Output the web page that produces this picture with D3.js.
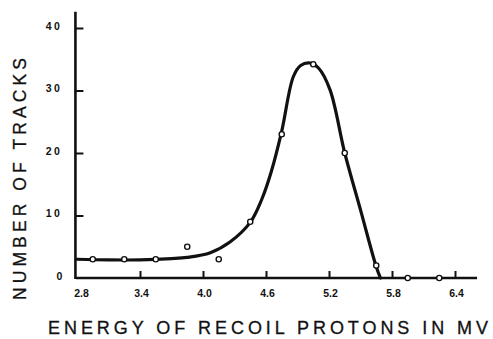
<!DOCTYPE html>
<html>
<head>
<meta charset="utf-8">
<script src="https://cdn.jsdelivr.net/npm/d3@7"></script>
<style>
  body { margin: 0; background: #fff; }
  svg { display: block; }
</style>
</head>
<body>
<div id="chart"></div>
<script>
// measured points (energy in MV, number of tracks)
const energy = [2.95, 3.25, 3.55, 3.85, 4.15, 4.45, 4.75, 5.05, 5.35, 5.65, 5.95, 6.25];
const tracks = [3, 3, 3, 5, 3, 9, 23, 34.2, 20, 2, 0, 0];

// hand drawn smooth curve
const curveX = [2.8, 3.1, 3.4, 3.7, 3.85, 4.07, 4.26, 4.45, 4.56, 4.65, 4.75, 4.86, 4.93, 5.02, 5.10, 5.21, 5.35, 5.5, 5.65, 5.69];
const curveY = [3.0, 2.9, 2.9, 3.1, 3.3, 4.05, 5.8, 8.9, 12.6, 17, 23.5, 32.2, 34.0, 34.4, 33.6, 30.1, 20, 10.9, 1.8, 0];

const xTicks = [2.8, 3.4, 4.0, 4.6, 5.2, 5.8, 6.4];
const yTicks = [0, 10, 20, 30, 40];

const W = 493, H = 339;
const ink = "#111";

const svg = d3.select("#chart").append("svg")
  .attr("width", W)
  .attr("height", H);

let x = d3.scaleLinear().domain([2.8, 6.4]).range([77, 455]);
let y = d3.scaleLinear().domain([0, 40]).range([278, 28]);

// axis lines (longer than the tick range)
svg.append("line")
  .attr("x1", x(2.79)).attr("x2", x(6.61))
  .attr("y1", y(0)).attr("y2", y(0))
  .attr("stroke", ink).attr("stroke-width", 2.6);
svg.append("line")
  .attr("x1", x(2.785)).attr("x2", x(2.785))
  .attr("y1", y(0) + 1).attr("y2", y(42.6))
  .attr("stroke", ink).attr("stroke-width", 2.6);

const xAxis = svg.append("g")
  .attr("transform", "translate(0," + y(0) + ")")
  .call(d3.axisBottom(x).tickValues(xTicks).tickFormat(d3.format(".1f"))
    .tickSize(-7).tickPadding(12));
xAxis.select(".domain").remove();
xAxis.selectAll(".tick line").attr("stroke", ink).attr("stroke-width", 2)
  .filter(d => d === 2.8).remove();
xAxis.selectAll("text")
  .attr("fill", ink)
  .style("font-family", "'Liberation Sans', Arial, sans-serif")
  .style("font-weight", "bold")
  .style("font-size", "10.5px")
  .attr("dx", d => d === 2.8 ? 4 : 1);

const yAxis = svg.append("g")
  .attr("transform", "translate(" + x(2.785) + ",0)")
  .call(d3.axisLeft(y).tickValues(yTicks).tickSize(-8).tickPadding(13));
yAxis.select(".domain").remove();
yAxis.selectAll(".tick line").attr("stroke", ink).attr("stroke-width", 2)
  .filter(d => d === 0).remove();
yAxis.selectAll("text")
  .attr("fill", ink)
  .attr("dy", "0.1em")
  .style("font-family", "'Liberation Sans', Arial, sans-serif")
  .style("font-weight", "bold")
  .style("font-size", "10.5px")
  .style("letter-spacing", d => d === 0 ? "0px" : "2.5px");

// smooth curve
const line = d3.line()
  .x((d, i) => x(curveX[i]))
  .y((d, i) => y(curveY[i]))
  .curve(d3.curveCatmullRom.alpha(0.5));

svg.append("path")
  .datum(curveX)
  .attr("d", line)
  .attr("fill", "none")
  .attr("stroke", ink)
  .attr("stroke-width", 3.2)
  .attr("stroke-linejoin", "round")
  .attr("stroke-linecap", "round");

// data points
svg.append("g")
  .selectAll("circle")
  .data(energy)
  .enter()
  .append("circle")
    .attr("cx", d => x(d))
    .attr("cy", (d, i) => y(tracks[i]))
    .attr("r", 2.6)
    .attr("fill", "#fff")
    .attr("stroke", ink)
    .attr("stroke-width", 1.4);

// axis titles
svg.append("text")
  .attr("x", 48)
  .attr("y", 334)
  .attr("textLength", 440)
  .attr("lengthAdjust", "spacing")
  .attr("fill", ink)
  .attr("stroke", ink)
  .attr("stroke-width", 0.3)
  .style("font-family", "'Liberation Sans', Arial, sans-serif")
  .style("font-size", "18px")
  .text("ENERGY  OF  RECOIL  PROTONS  IN  MV");

svg.append("text")
  .attr("transform", "translate(26,300) rotate(-90)")
  .attr("x", 0)
  .attr("y", 0)
  .attr("textLength", 242)
  .attr("lengthAdjust", "spacing")
  .attr("fill", ink)
  .attr("stroke", ink)
  .attr("stroke-width", 0.3)
  .style("font-family", "'Liberation Sans', Arial, sans-serif")
  .style("font-size", "17.5px")
  .text("NUMBER  OF  TRACKS");
</script>
</body>
</html>
